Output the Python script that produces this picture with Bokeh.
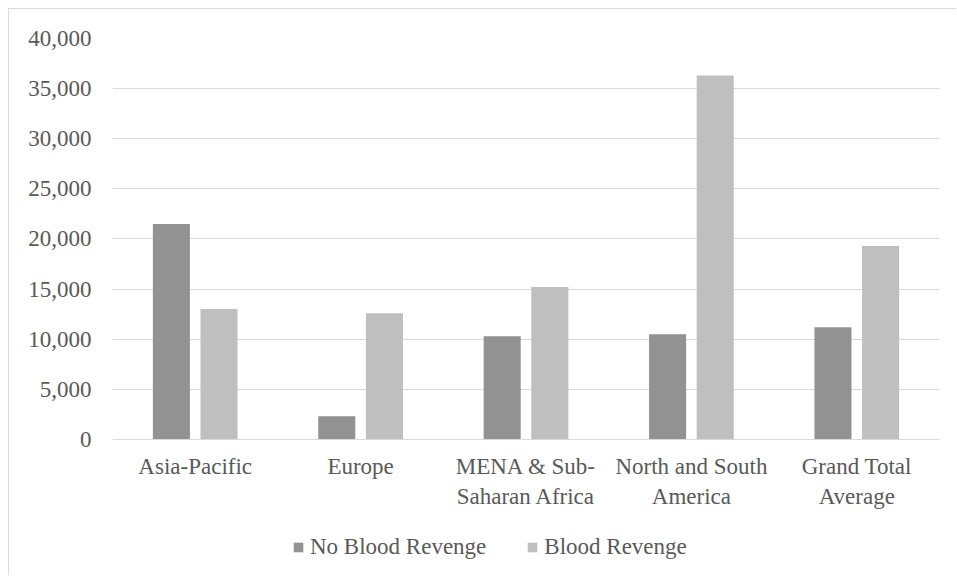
from bokeh.plotting import figure
from bokeh.models import ColumnDataSource, Legend, LegendItem, FactorRange, NumeralTickFormatter, FixedTicker, Range1d
from bokeh.transform import dodge
from bokeh.embed import file_html
from bokeh.resources import INLINE

categories = ["Asia-Pacific", "Europe", "MENA & Sub-\nSaharan Africa", "North and South\nAmerica", "Grand Total\nAverage"]
no_blood_revenge = [21500, 2300, 10300, 10500, 11200]
blood_revenge = [13000, 12600, 15200, 36300, 19300]
y_ticks = [0, 5000, 10000, 15000, 20000, 25000, 30000, 35000, 40000]

FONT = "Liberation Serif"
TXT = "#595959"
GRID = "#d9d9d9"
FS = "23px"

src = ColumnDataSource(dict(cat=categories, nbr=no_blood_revenge, br=blood_revenge))

p = figure(x_range=FactorRange(*categories), y_range=Range1d(-12580, 40000),
           width=948, height=567, output_backend="svg", toolbar_location=None,
           min_border_left=103, min_border_right=18, min_border_top=29, min_border_bottom=11,
           styles={"border-left": "1px solid #d9d9d9", "border-top": "1px solid #d9d9d9",
                   "margin-left": "8px", "margin-top": "8px"})
p.outline_line_color = None
p.background_fill_color = "white"
p.border_fill_color = "white"

r1 = p.vbar(x=dodge("cat", -0.144, range=p.x_range), top="nbr", bottom=0, width=0.224, source=src,
            fill_color="#929292", line_color=None)
r2 = p.vbar(x=dodge("cat", 0.144, range=p.x_range), top="br", bottom=0, width=0.224, source=src,
            fill_color="#bfbfbf", line_color=None)

p.xgrid.grid_line_color = None
p.ygrid.grid_line_color = GRID
p.ygrid.grid_line_width = 1
p.yaxis.ticker = FixedTicker(ticks=y_ticks)
p.ygrid.ticker = FixedTicker(ticks=y_ticks)
p.yaxis.formatter = NumeralTickFormatter(format="0,0")
p.yaxis.axis_line_color = None
p.yaxis.major_tick_line_color = None
p.yaxis.minor_tick_line_color = None
p.yaxis.major_label_standoff = 15
p.yaxis.major_label_text_font = FONT
p.yaxis.major_label_text_font_size = FS
p.yaxis.major_label_text_color = TXT

p.xaxis.fixed_location = 0
p.xaxis.axis_line_color = GRID
p.xaxis.major_tick_line_color = None
p.xaxis.minor_tick_line_color = None
p.xaxis.major_label_standoff = 9
p.xaxis.major_label_text_font = FONT
p.xaxis.major_label_text_font_size = FS
p.xaxis.major_label_text_color = TXT
p.xaxis.major_label_orientation = "horizontal"

legend = Legend(items=[LegendItem(label="No Blood Revenge", renderers=[r1]),
                       LegendItem(label="Blood Revenge", renderers=[r2])],
                orientation="horizontal", location=(180, 5),
                glyph_width=12, glyph_height=12, label_standoff=6, spacing=40,
                label_text_font=FONT, label_text_font_size=FS, label_text_color=TXT,
                border_line_color=None, background_fill_alpha=0, margin=0, padding=0)
p.add_layout(legend, "center")

open("out.html", "w").write(file_html(p, INLINE))
